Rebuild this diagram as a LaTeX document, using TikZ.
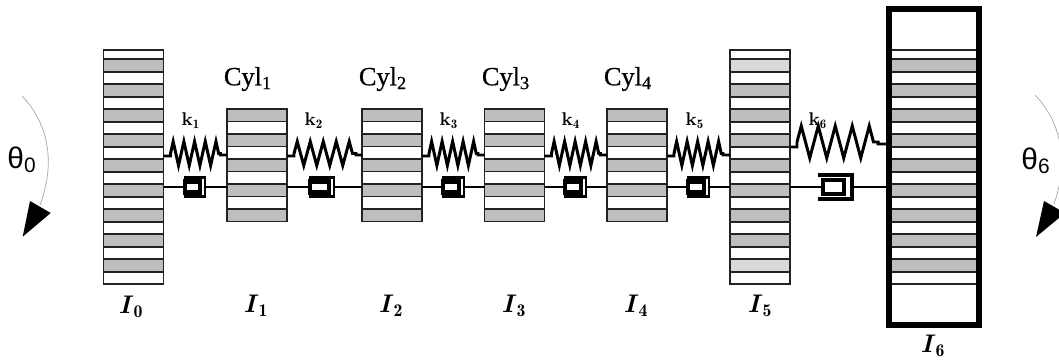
\documentclass[tikz,border=0pt]{standalone}
\usepackage{fontspec}
\usetikzlibrary{positioning}
\usetikzlibrary{decorations.pathmorphing}
\newfontfamily\thetafont{Liberation Sans}
\newfontfamily\cylfont[FakeBold=0.6]{Liberation Serif}
\def\pxu{0.02cm}
\newcommand{\inertia}[1]{\textbf{\textit{I}}$_{\mathbf{#1}}$}
\definecolor{stripegray}{HTML}{BEBEBE}
\definecolor{stripelight}{HTML}{D9D9D9}
\definecolor{edgegray}{HTML}{222222}
\tikzset{cyl/.style={rectangle, draw=edgegray, line width=1pt, inner sep=0pt, outer sep=0pt, minimum width=60*\pxu},
        rowband/.style={draw=edgegray, line width=1pt},
        shaft/.style={draw=black, line width=1.3pt},
        spring/.style={draw=black, line width=1.7pt},
        zig/.style={decoration={zigzag, segment length=#1*\pxu, amplitude=12*\pxu}},
        dampcase/.style={rectangle, inner sep=0pt, outer sep=0pt, minimum height=19*\pxu},
        dampwall/.style={draw=black, line width=1.4pt},
        damppiston/.style={rectangle, draw=black, fill=white, line width=2.4pt, inner sep=0pt, outer sep=0pt, minimum height=11*\pxu},
        swing/.style={draw=black!35, line width=0.4pt},
        cyllabel/.style={font=\fontsize{15}{17}\selectfont\cylfont, inner sep=0pt},
        klabel/.style={font=\fontsize{10.5}{12}\selectfont\bfseries, inner sep=0pt},
        ilabel/.style={font=\fontsize{14.5}{17}\selectfont, inner sep=0pt},
        thetalabel/.style={font=\fontsize{17}{19}\selectfont\thetafont, inner sep=0pt},
        }

\begin{document}
\begin{tikzpicture}[x=0.02cm, y=-0.02cm]
    \useasboundingbox (0,0) rectangle (1059,361);

    % discs at both ends and the four cylinders
    \node [cyl, minimum height=234*\pxu] (I0) at (133.5,167) {};
    \node [cyl, minimum height=112.5*\pxu] (I1) at (257,165.2) {};
    \node [cyl, minimum height=112.5*\pxu] (I2) at (392,165.2) {};
    \node [cyl, minimum height=112.5*\pxu] (I3) at (514.5,165.2) {};
    \node [cyl, minimum height=112.5*\pxu] (I4) at (637,165.2) {};
    \node [cyl, minimum height=234*\pxu] (I5) at (760,167) {};
    \coordinate (I0s) at (I0.north west);
    \coordinate (I5s) at (I5.north west);
    \coordinate (I6s) at (891,50);

    \foreach \n in {I1,I2,I3,I4} {
        \foreach \r in {0,2,...,8}
            \draw [rowband, fill=stripegray] (\n.north west) ++(0,\r*12.5) rectangle ++(60,12.5);
        \foreach \r in {1,3,...,7}
            \draw [rowband, fill=white] (\n.north west) ++(0,\r*12.5) rectangle ++(60,12.5);
    }
    \foreach \n/\w in {I0s/60,I5s/60,I6s/86} {
        \draw [rowband, fill=white] (\n) rectangle ++(\w,234);
        \foreach \r in {0,2,...,16}
            \draw [rowband, fill=stripegray] (\n) ++(0,9.3+\r*12.5) rectangle ++(\w,12.5);
    }
    \foreach \r in {0,16}
        \draw [rowband, fill=stripelight] (I5s) ++(0,9.3+\r*12.5) rectangle ++(60,12.5);

    \node [rectangle, draw=black, line width=3.3pt, inner sep=0pt, outer sep=0pt,
           minimum width=89.5*\pxu, minimum height=316*\pxu] (I6) at (934,167) {};

    % springs
    \foreach \a/\b/\l/\s/\ya in {I0/I1/50/10.7/156,I1/I2/62/13/156,I2/I3/49/10.5/156,I3/I4/49/10.5/156,I4/I5/49/10.5/156}
        \draw [spring] (\a.east |- 0,\ya) -- ++(7,0) -- ++(0,-2.5)
            decorate[zig=\s, decorate] {-- ++(\l,0)} -- ++(0,1.5) -- (\b.west |- 0,155);
    \draw [spring] (I5.east |- 0,147) -- ++(7,0) -- ++(0,-5)
        decorate[decoration={zigzag, segment length=17*\pxu, amplitude=16*\pxu}] {-- ++(81,0)}
        -- ++(0,2) -- (I6.west |- 0,144);

    % dampers
    \foreach \n/\a/\b/\x/\w in {1/I0/I1/184/21,2/I1/I2/309/25,3/I2/I3/442/22,4/I3/I4/564/22,5/I4/I5/687/22} {
        \node [dampcase, minimum width=\w*\pxu] (c\n) at (\x+\w/2,187) {};
        \node [damppiston, minimum width=(\w-6)*\pxu, anchor=west, xshift=1*\pxu] (p\n) at (c\n.west) {};
        \draw [dampwall] (c\n.north west) -- (c\n.north east) -- (c\n.south east) -- (c\n.south west);
        \draw [shaft] (\a.east |- 0,187) -- (p\n.west);
        \draw [shaft] (c\n.east) -- (\b.west |- 0,187);
    }
    \node [dampcase, minimum width=34*\pxu, minimum height=24*\pxu] (c6) at (835,187) {};
    \node [damppiston, line width=2pt, minimum width=21*\pxu, minimum height=14*\pxu, anchor=west, xshift=5*\pxu] (p6) at (c6.west) {};
    \draw [dampwall, line width=1.8pt] (c6.north west) -- (c6.north east) -- (c6.south east) -- (c6.south west);
    \draw [shaft] (I5.east |- 0,187) -- (p6.west);
    \draw [shaft] (c6.east) -- (I6.west |- 0,187);

    % labels
    \foreach \n/\x in {1/248,2/383,3/506,4/628}
        \node [cyllabel] (cyl\n) at (\x,79) {Cyl\textsubscript{\n}};
    \foreach \n/\x in {1/191,2/314,3/449,4/571,5/695,6/818}
        \node [klabel] (k\n) at (\x,121) {k$_{\mathbf{\n}}$};
    \node [ilabel] (name0) at (131,307) {\inertia{0}};
    \foreach \n/\x in {1/256,2/391,3/514,4/636,5/760}
        \node [ilabel] (name\n) at (\x,306) {\inertia{\n}};
    \node [ilabel] (name6) at (933,346) {\inertia{6}};

    % rotation arrows
    \draw [swing] (22,96) .. controls (50,125) and (55,165) .. (40,205);
    \fill (30,201) -- (50.7,213) -- (22.7,236.7) -- cycle;
    \node [thetalabel] (theta0) at (22,160) {θ\textsubscript{0}};
    \draw [swing] (1035,95) .. controls (1063,124) and (1068,164) .. (1054,204);
    \fill (1044,201) -- (1065,213) -- (1036,237) -- cycle;
    \node [thetalabel] (theta6) at (1036,161) {θ\textsubscript{6}};
\end{tikzpicture}
\end{document}
